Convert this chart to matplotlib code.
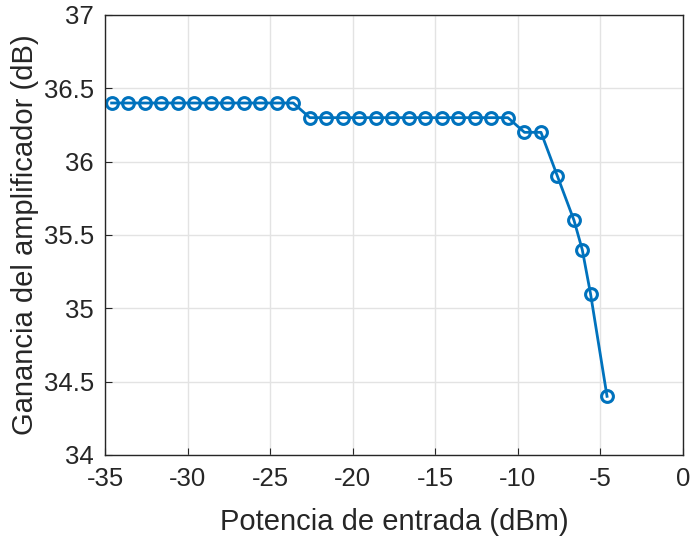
import matplotlib
matplotlib.use('Agg')
import matplotlib.pyplot as plt

# potencia de entrada (dBm) y ganancia (dB)
potencia = [-34.6, -33.6, -32.6, -31.6, -30.6, -29.6, -28.6, -27.6, -26.6, -25.6, -24.6, -23.6,
            -22.6, -21.6, -20.6, -19.6, -18.6, -17.6, -16.6, -15.6, -14.6, -13.6, -12.6, -11.6, -10.6,
            -9.6, -8.6, -7.6, -6.6, -6.1, -5.6, -4.6]
ganancia = [36.4] * 12 + [36.3] * 13 + [36.2, 36.2, 35.9, 35.6, 35.4, 35.1, 34.4]

xticks = [-35, -30, -25, -20, -15, -10, -5, 0]
xtick_labels = ['-35', '-30', '-25', '-20', '-15', '-10', '-5', '0']
yticks = [34, 34.5, 35, 35.5, 36, 36.5, 37]
ytick_labels = ['34', '34.5', '35', '35.5', '36', '36.5', '37']

plt.rcParams['font.family'] = ['Liberation Sans', 'DejaVu Sans']

fig = plt.figure(figsize=(6.92, 5.4), dpi=100)
ax = fig.add_axes([105 / 692, 1 - 455 / 540, 578 / 692, 440 / 540])

ax.plot(potencia, ganancia, color='#0072BD', linewidth=2, marker='o', markersize=8.5,
        markerfacecolor='none', markeredgewidth=2.2)

ax.set_xlim(-35, 0)
ax.set_ylim(34, 37)
ax.set_xticks(xticks)
ax.set_xticklabels(xtick_labels)
ax.set_yticks(yticks)
ax.set_yticklabels(ytick_labels)
ax.grid(True, color='#e3e3e3', linewidth=1)
ax.set_axisbelow(True)
ax.tick_params(direction='in', labelsize=18.5, colors='#262626', length=5)
ax.tick_params(axis='x', pad=9)
ax.tick_params(axis='y', pad=8)
for s in ax.spines.values():
    s.set_color('#262626')
    s.set_linewidth(1)

ax.set_xlabel('Potencia de entrada (dBm)', fontsize=21, color='#262626', labelpad=12)
ax.set_ylabel('Ganancia del amplificador (dB)', fontsize=21, color='#262626', labelpad=3)

fig.savefig('out.png', dpi=100)
